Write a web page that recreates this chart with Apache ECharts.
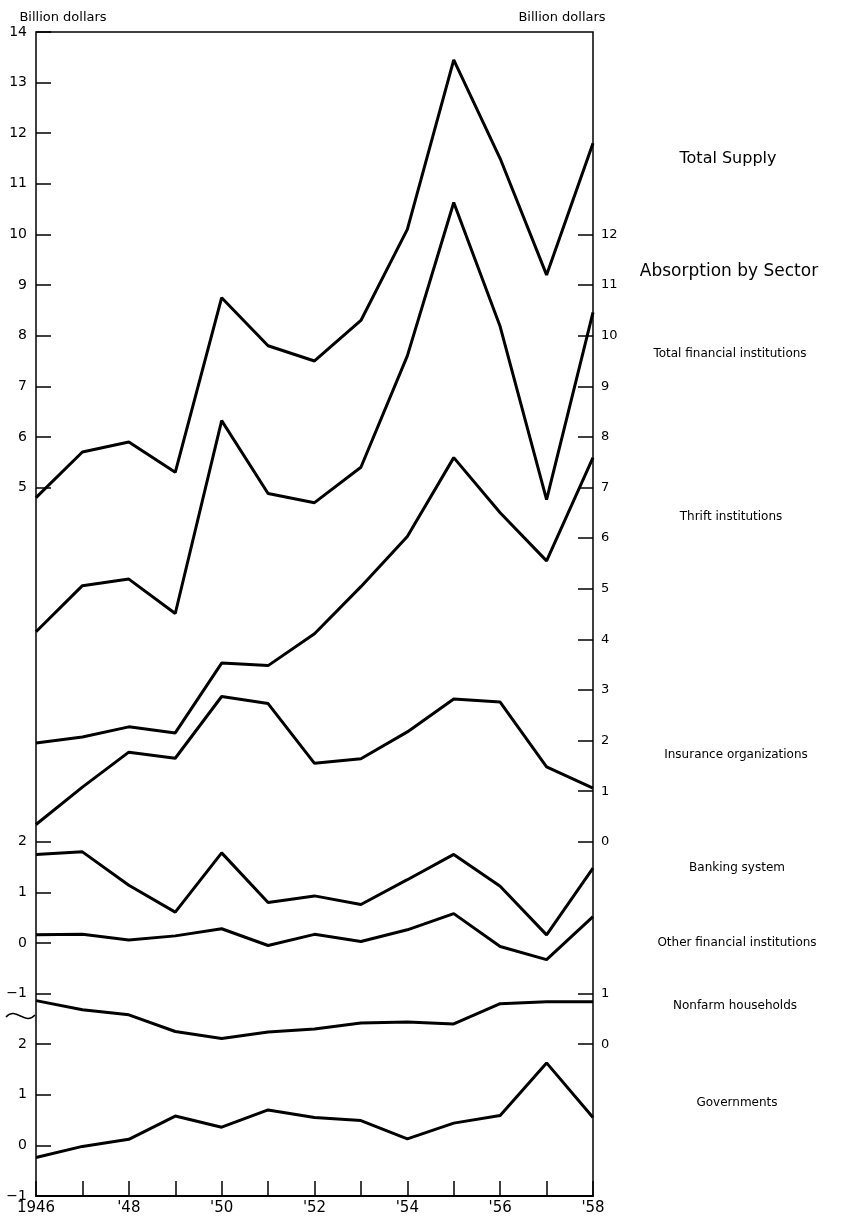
<!DOCTYPE html>
<html style="height: 100%">
<head>
    <meta charset="utf-8" />
    <title>Total Supply and Absorption by Sector</title>
    <script src="https://cdn.jsdelivr.net/npm/echarts@6/dist/echarts.min.js"></script>
</head>
<body style="height: 100%; margin: 0; overflow: hidden; background: #fff">
    <div id="container" style="width: 841px; height: 1216px"></div>
    <script>
        // values, billion dollars
        var years = [1946, 1947, 1948, 1949, 1950, 1951, 1952, 1953, 1954, 1955, 1956, 1957, 1958];
        var totalSupply = [4.8, 5.7, 5.9, 5.3, 8.75, 7.8, 7.5, 8.3, 10.1, 13.45, 11.5, 9.2, 11.8];
        var totalFinancial = [4.15, 5.06, 5.19, 4.51, 8.32, 6.88, 6.7, 7.4, 9.6, 12.63, 10.18, 6.76, 10.46];
        var thrift = [1.95, 2.07, 2.27, 2.15, 3.53, 3.48, 4.11, 5.04, 6.03, 7.59, 6.5, 5.55, 7.59];
        var insurance = [0.34, 1.08, 1.77, 1.65, 2.87, 2.73, 1.55, 1.64, 2.17, 2.82, 2.76, 1.48, 1.06];
        var banking = [1.75, 1.8, 1.14, 0.61, 1.78, 0.8, 0.93, 0.76, 1.25, 1.75, 1.12, 0.16, 1.48];
        var otherFinancial = [0.16, 0.17, 0.06, 0.14, 0.28, -0.05, 0.17, 0.03, 0.26, 0.58, -0.07, -0.33, 0.52];
        var nonfarm = [0.86, 0.68, 0.58, 0.25, 0.11, 0.24, 0.3, 0.42, 0.44, 0.4, 0.8, 0.84, 0.84];
        var governments = [-0.24, -0.02, 0.12, 0.58, 0.36, 0.7, 0.55, 0.49, 0.13, 0.44, 0.59, 1.63, 0.55];

        // tick labels shown on each of the stacked scales
        var supplyTicks = [5, 6, 7, 8, 9, 10, 11, 12, 13, 14];
        var absorptionTicks = [0, 1, 2, 3, 4, 5, 6, 7, 8, 9, 10, 11, 12];
        var bankingTicks = [-1, 0, 1, 2];
        var nonfarmTicks = [0, 1];
        var governmentTicks = [-1, 0, 1, 2];

        var font = "DejaVu Sans";
        var dom = document.getElementById("container");
        var myChart = echarts.init(dom, null, { renderer: "canvas" });

        let pairs = (vals) => years.map((y, i) => [y, vals[i]]);

        let yAx = (pos, min, max, ticks) => ({
            type: "value",
            position: pos,
            offset: 0,
            min: min,
            max: max,
            axisLine: { show: false },
            splitLine: { show: false },
            axisTick: {
                show: true,
                inside: true,
                length: 15,
                customValues: ticks,
                lineStyle: { color: "#000", width: 1.5 },
            },
            axisLabel: {
                show: true,
                customValues: ticks,
                margin: pos == "left" ? 9 : 8,
                color: "#000",
                fontFamily: font,
                fontSize: pos == "left" ? 14 : 13,
                formatter: (v) => String(v).replace("-", "\u2212"),
            },
        });

        let line = (vals, axis) => ({
            type: "line",
            yAxisIndex: axis,
            data: pairs(vals),
            showSymbol: false,
            lineStyle: { color: "#000", width: 3 },
            itemStyle: { color: "#000" },
        });

        let label = (text, x, y, size) => ({
            type: "text",
            x: x,
            y: y,
            style: {
                text: text,
                fill: "#000",
                font: size + "px '" + font + "'",
                textAlign: "center",
                textVerticalAlign: "middle",
            },
        });

        var option = {
            animation: false,
            grid: {
                left: 36, right: 248, top: 32, bottom: 20,
                show: true, borderColor: "#000", borderWidth: 1.5,
            },
            xAxis: {
                type: "value",
                min: 1946,
                max: 1958,
                interval: 1,
                axisLine: { show: true, onZero: false, lineStyle: { color: "#000", width: 2 } },
                splitLine: { show: false },
                axisTick: { inside: true, length: 15, lineStyle: { color: "#000", width: 1.5 } },
                axisLabel: {
                    margin: 5,
                    color: "#000",
                    fontFamily: font,
                    fontSize: 15,
                    formatter: (v) => v == 1946 ? "1946" : (v % 2 == 0 ? "'" + String(v).slice(2) : ""),
                },
            },
            // one scale per panel, all sharing the same unit height
            yAxis: [
                yAx("left", -9, 14, supplyTicks),
                yAx("right", -7, 16, absorptionTicks),
                yAx("left", -5, 18, bankingTicks),
                yAx("right", -3, 20, nonfarmTicks),
                yAx("left", -1, 22, governmentTicks),
            ],
            series: [
                line(totalSupply, 0),
                line(totalFinancial, 1),
                line(thrift, 1),
                line(insurance, 1),
                line(banking, 2),
                line(otherFinancial, 2),
                line(nonfarm, 3),
                line(governments, 4),
            ],
            graphic: [
                label("Billion dollars", 63, 18, 13),
                label("Billion dollars", 562, 18, 13),
                label("Total Supply", 728, 159, 16),
                label("Absorption by Sector", 729, 272, 17),
                label("Total financial institutions", 730, 354, 12),
                label("Thrift institutions", 731, 517, 12),
                label("Insurance organizations", 736, 755, 12),
                label("Banking system", 737, 868, 12),
                label("Other financial institutions", 737, 943, 12),
                label("Nonfarm households", 735, 1006, 12),
                label("Governments", 737, 1103, 12),
                {
                    // axis break mark
                    type: "bezierCurve",
                    shape: { x1: 6, y1: 1017, cpx1: 16, cpy1: 1006, cpx2: 25, cpy2: 1026, x2: 35, y2: 1015 },
                    style: { stroke: "#000", lineWidth: 1.5, fill: null },
                },
            ],
        };

        myChart.setOption(option);
        window.addEventListener("resize", myChart.resize);
    </script>
</body>
</html>
